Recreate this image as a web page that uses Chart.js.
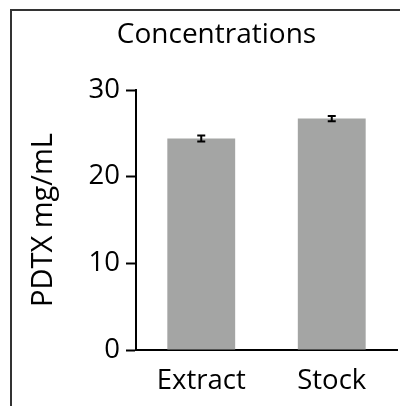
<!DOCTYPE html>
<html>
<head>
<meta charset="utf-8">
<script src="https://cdn.jsdelivr.net/npm/chart.js@4/dist/chart.umd.min.js"></script>
<style>
  html, body { margin: 0; padding: 0; background: #fff; }
  #wrap { position: relative; width: 400px; height: 406px; overflow: hidden; }
  #frame { position: absolute; left: 10px; top: 9px; width: 420px; height: 420px;
           border-left: 2px solid #333; border-top: 2px solid #333; box-sizing: border-box; }
  #c { position: absolute; left: 0; top: 0; }
</style>
</head>
<body>
<div id="wrap">
  <div id="frame"></div>
  <canvas id="c" width="400" height="406"></canvas>
</div>
<script>
// Sample groups and measured PDTX concentration (mean ± error)
const categories = ['Extract', 'Stock'];
const means = [24.4, 26.7];
const errors = [0.35, 0.3];
const yTicks = [0, 10, 20, 30];

const FONT = '"Open Sans", Lato, sans-serif';
const PAD_LEFT = 36;

// Draws the error bar (vertical line with caps) on top of each bar
const errorBars = {
  id: 'errorBars',
  afterDatasetsDraw(chart) {
    const ctx = chart.ctx;
    const meta = chart.getDatasetMeta(0);
    const y = chart.scales.y;
    ctx.save();
    ctx.strokeStyle = '#000';
    ctx.lineWidth = 2;
    meta.data.forEach((bar, i) => {
      const x = bar.x;
      const top = y.getPixelForValue(means[i] + errors[i]);
      const bot = y.getPixelForValue(means[i] - errors[i]);
      const cap = 4;
      ctx.beginPath();
      ctx.moveTo(x, top); ctx.lineTo(x, bot);
      ctx.moveTo(x - cap, top); ctx.lineTo(x + cap, top);
      ctx.moveTo(x - cap, bot); ctx.lineTo(x + cap, bot);
      ctx.stroke();
    });
    ctx.restore();
  }
};

new Chart(document.getElementById('c'), {
  type: 'bar',
  data: {
    labels: categories,
    datasets: [{
      data: means,
      backgroundColor: '#a4a5a4',
      borderWidth: 0,
      barPercentage: 0.52,
      categoryPercentage: 1.0
    }]
  },
  options: {
    responsive: false,
    animation: false,
    devicePixelRatio: 1,
    layout: { padding: { left: PAD_LEFT, right: 3, top: 0, bottom: 0 } },
    plugins: {
      legend: { display: false },
      tooltip: { enabled: false },
      title: {
        display: true,
        text: 'Concentrations',
        color: '#000',
        font: { family: FONT, size: 28, weight: 'normal' },
        padding: { top: 18, bottom: 38.4 }
      }
    },
    scales: {
      x: {
        offset: true,
        grid: { display: false, drawTicks: false },
        border: { display: true, color: '#000', width: 2 },
        ticks: { color: '#000', padding: 15, font: { family: FONT, size: 27.5 } },
        afterFit(scale) { scale.height = 56; }
      },
      y: {
        min: 0,
        max: 30,
        afterBuildTicks(scale) { scale.ticks = yTicks.map(v => ({ value: v })); },
        grid: {
          drawOnChartArea: false,
          drawTicks: true,
          tickLength: 10,
          tickWidth: 2,
          tickColor: '#000'
        },
        border: { display: true, color: '#000', width: 2 },
        ticks: { color: '#000', padding: 6, font: { family: FONT, size: 27.5 } },
        title: {
          display: true,
          text: 'PDTX mg/mL',
          color: '#000',
          font: { family: FONT, size: 29 },
          padding: { top: 26 - PAD_LEFT, bottom: 0 }
        },
        afterFit(scale) { scale.width = 136 - PAD_LEFT; }
      }
    }
  },
  plugins: [errorBars]
});
</script>
</body>
</html>
